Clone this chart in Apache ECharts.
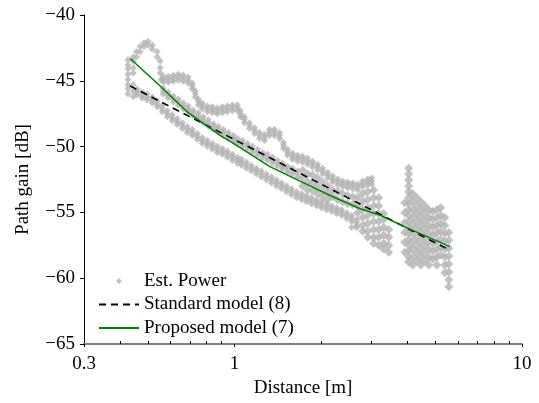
<!DOCTYPE html>
<html><head><meta charset="utf-8">
<script src="https://cdn.jsdelivr.net/npm/echarts@6/dist/echarts.min.js"></script>
<style>html,body{margin:0;padding:0;background:#fff}#c{width:539px;height:403px}</style>
</head><body><div id="c"></div><script>
// ---- data (distance [m], path gain [dB]) ----
const estStart = [[0.427,-43.4],[0.427,-43.8],[0.427,-44.1],[0.427,-44.5],[0.427,-44.9],[0.427,-45.3],[0.427,-45.6],[0.427,-46.0],
[0.445,-43.2],[0.445,-43.5],[0.445,-44.0],[0.445,-44.4],[0.445,-45.3],[0.445,-45.8],[0.445,-46.2],
[0.457,-42.8],[0.457,-43.2],[0.470,-42.4],[0.470,-42.8],[0.485,-42.1],[0.485,-42.4],[0.501,-42.0],[0.501,-42.3],
[0.518,-42.3],[0.518,-42.6],[0.539,-42.8],[0.539,-43.2],[0.552,-43.5],[0.552,-44.0],[0.552,-44.4],[0.556,-44.9]];
const estUpper = [[0.566,-44.65],[0.566,-45.11],[0.589,-44.65],[0.589,-45.11],[0.613,-44.58],[0.613,-45.03],
[0.638,-44.50],[0.638,-44.95],[0.664,-44.58],[0.664,-45.03],[0.691,-44.73],[0.691,-45.18],[0.714,-45.18],[0.714,-45.63],
[0.731,-45.78],[0.731,-46.23],[0.749,-46.38],[0.749,-46.83],[0.773,-46.68],[0.773,-47.13],[0.805,-46.91],[0.805,-47.36],
[0.838,-46.98],[0.838,-47.43],[0.872,-47.06],[0.872,-47.51],[0.908,-46.98],[0.908,-47.43],[0.945,-46.91],[0.945,-47.36],
[0.984,-46.83],[0.984,-47.28],[1.024,-46.83],[1.024,-47.28],[1.049,-47.28],[1.049,-47.73],[1.083,-47.73],[1.083,-48.18],
[1.128,-48.18],[1.128,-48.63],[1.174,-48.56],[1.174,-49.01],[1.222,-48.93],[1.222,-49.38],[1.272,-49.08],[1.272,-49.53],
[1.324,-48.71],[1.324,-49.16],[1.378,-48.71],[1.378,-49.16],[1.435,-48.93],[1.435,-49.38],[1.482,-49.68],[1.482,-50.14],
[1.530,-50.21],[1.530,-50.66],[1.592,-50.51],[1.592,-50.96],[1.658,-50.66],[1.658,-51.11],[1.726,-50.74],[1.726,-51.19],
[1.797,-50.89],[1.797,-51.34],[1.870,-51.11],[1.870,-51.56],[1.947,-51.34],[1.947,-51.79],[2.026,-51.64],[2.026,-52.09],
[2.109,-51.94],[2.109,-52.39],[2.195,-52.24],[2.195,-52.69],[2.285,-52.46],[2.285,-52.91],[2.379,-52.61],[2.379,-53.06],
[2.476,-52.69],[2.476,-53.14],[2.577,-52.76],[2.577,-53.21],[2.684,-52.84],[2.684,-53.29],[2.793,-52.61],[2.793,-53.06],
[2.907,-52.46],[2.907,-52.91],[3.001,-52.39],[3.001,-52.84]];
const estUpperCore = [[0.566,-44.88],[0.589,-44.88],[0.613,-44.8],[0.638,-44.72],[0.664,-44.8],[0.691,-44.95],[0.714,-45.4],
[0.731,-46.0],[0.749,-46.6],[0.773,-46.9],[0.805,-47.13],[0.838,-47.2],[0.872,-47.28],[0.908,-47.2],[0.945,-47.13],
[0.984,-47.05],[1.024,-47.05],[1.049,-47.5],[1.083,-47.95],[1.128,-48.4],[1.174,-48.78],[1.222,-49.15],[1.272,-49.3],
[1.324,-48.93],[1.378,-48.93],[1.435,-49.15],[1.482,-49.9],[1.530,-50.43],[1.592,-50.73],[1.658,-50.88],[1.726,-50.96],
[1.797,-51.11],[1.870,-51.33],[1.947,-51.56],[2.026,-51.86],[2.109,-52.16],[2.195,-52.46],[2.285,-52.68],[2.379,-52.83],
[2.476,-52.91],[2.577,-52.98],[2.684,-53.06],[2.793,-52.83],[2.907,-52.68],[3.001,-52.61]];
const estMiddle = [[0.566,-45.56],[0.566,-46.01],[0.589,-45.86],[0.589,-46.31],[0.613,-46.16],[0.613,-46.61],
[0.638,-46.38],[0.638,-46.83],[0.664,-46.68],[0.664,-47.13],[0.691,-46.91],[0.691,-47.36],[0.719,-47.21],[0.719,-47.66],
[0.749,-47.43],[0.749,-47.88],[0.779,-47.73],[0.779,-48.18],[0.811,-47.96],[0.811,-48.41],[0.845,-48.26],[0.845,-48.71],
[0.879,-48.48],[0.879,-48.93],[0.915,-48.71],[0.915,-49.16],[0.953,-48.93],[0.953,-49.38],[0.992,-49.16],[0.992,-49.61],
[1.024,-49.38],[1.024,-49.83],[1.066,-49.53],[1.066,-49.98],[1.110,-49.76],[1.110,-50.21],[1.155,-49.98],[1.155,-50.44],
[1.203,-50.21],[1.203,-50.66],[1.252,-50.44],[1.252,-50.89],[1.303,-50.59],[1.303,-51.04],[1.356,-50.81],[1.356,-51.26],
[1.412,-51.04],[1.412,-51.49],[1.470,-51.26],[1.470,-51.71],[1.530,-51.49],[1.530,-51.94],[1.592,-51.64],[1.592,-52.09],
[1.658,-51.86],[1.658,-52.31]];
const estMiddleCore = [[0.566,-45.79],[0.589,-46.09],[0.613,-46.39],[0.638,-46.61],[0.664,-46.91],[0.691,-47.13],[0.719,-47.43],
[0.749,-47.66],[0.779,-47.96],[0.811,-48.18],[0.845,-48.48],[0.879,-48.71],[0.915,-48.93],[0.953,-49.16],[0.992,-49.38],
[1.024,-49.61],[1.066,-49.76],[1.110,-49.98],[1.155,-50.21],[1.203,-50.44],[1.252,-50.66],[1.303,-50.81],[1.356,-51.04],
[1.412,-51.26],[1.470,-51.49],[1.530,-51.71],[1.592,-51.86],[1.658,-52.09]];
const estLower = [[0.459,-45.63],[0.459,-46.08],[0.478,-45.86],[0.478,-46.31],[0.497,-46.01],[0.497,-46.46],
[0.518,-46.23],[0.518,-46.68],[0.539,-46.53],[0.539,-46.98],[0.561,-46.91],[0.561,-47.36],[0.584,-47.28],[0.584,-47.73],
[0.608,-47.58],[0.608,-48.03],[0.633,-47.88],[0.633,-48.33],[0.659,-48.18],[0.659,-48.63],[0.686,-48.48],[0.686,-48.93],
[0.714,-48.71],[0.714,-49.16],[0.743,-49.01],[0.743,-49.46],[0.773,-49.31],[0.773,-49.76],[0.805,-49.53],[0.805,-49.98],
[0.838,-49.76],[0.838,-50.21],[0.872,-49.98],[0.872,-50.44],[0.908,-50.14],[0.908,-50.59],[0.945,-50.36],[0.945,-50.81],
[0.984,-50.59],[0.984,-51.04],[1.024,-50.81],[1.024,-51.26],[1.058,-50.96],[1.058,-51.41],[1.101,-51.19],[1.101,-51.64],
[1.146,-51.41],[1.146,-51.86],[1.193,-51.64],[1.193,-52.09],[1.242,-51.86],[1.242,-52.31],[1.293,-52.09],[1.293,-52.54],
[1.346,-52.31],[1.346,-52.76],[1.401,-52.54],[1.401,-52.99],[1.458,-52.76],[1.458,-53.21],[1.518,-52.99],[1.518,-53.44],
[1.580,-53.21],[1.580,-53.66],[1.644,-53.44],[1.644,-53.89],[1.712,-53.59],[1.712,-54.04],[1.782,-53.74],[1.782,-54.19],
[1.855,-53.89],[1.855,-54.34],[1.931,-54.04],[1.931,-54.49],[2.010,-54.19],[2.010,-54.64],[2.093,-54.34],[2.093,-54.79],
[2.178,-54.49],[2.178,-54.94],[2.267,-54.64],[2.267,-55.09],[2.360,-54.79],[2.360,-55.24],[2.457,-55.02],[2.457,-55.47],
[2.557,-55.24],[2.557,-55.69],[2.557,-56.14],[2.662,-55.54],[2.662,-55.99],[2.662,-56.14]];
const estLowerCore = [[0.459,-45.86],[0.478,-46.09],[0.497,-46.24],[0.518,-46.46],[0.539,-46.76],[0.561,-47.13],[0.584,-47.51],
[0.608,-47.81],[0.633,-48.11],[0.659,-48.41],[0.686,-48.71],[0.714,-48.93],[0.743,-49.24],[0.773,-49.54],[0.805,-49.76],
[0.838,-49.98],[0.872,-50.21],[0.908,-50.37],[0.945,-50.59],[0.984,-50.81],[1.024,-51.04],[1.058,-51.19],[1.101,-51.41],
[1.146,-51.64],[1.193,-51.86],[1.242,-52.09],[1.293,-52.31],[1.346,-52.54],[1.401,-52.76],[1.458,-52.99],[1.518,-53.21],
[1.580,-53.44],[1.644,-53.66],[1.712,-53.81],[1.782,-53.96],[1.855,-54.11],[1.931,-54.26],[2.010,-54.41],[2.093,-54.56],
[2.178,-54.71],[2.267,-54.86],[2.360,-55.01],[2.457,-55.24],[2.557,-55.47],[2.662,-55.77]];
const estFill = [[1.726,-51.79],[1.726,-52.39],[1.726,-52.99],[1.797,-52.09],[1.797,-52.69],[1.797,-53.29],
[1.870,-52.16],[1.870,-52.76],[1.870,-53.36],[1.947,-52.39],[1.947,-52.99],[1.947,-53.59],
[2.026,-52.69],[2.026,-53.29],[2.026,-53.81],[2.109,-52.99],[2.109,-53.51],[2.109,-54.04],
[2.195,-53.29],[2.195,-53.81],[2.285,-53.44],[2.285,-54.04],[2.379,-53.59],[2.379,-54.19],
[2.476,-53.74],[2.476,-54.34],[2.577,-53.81],[2.577,-54.41],[2.684,-53.89],[2.684,-54.49],[2.684,-55.02],
[2.793,-53.59],[2.793,-54.19],[2.793,-54.79],[2.793,-55.39],[2.793,-55.99],[2.793,-56.44],
[2.907,-53.44],[2.907,-54.04],[2.907,-54.64],[2.907,-55.24],[2.907,-55.84],[2.907,-56.44],[2.907,-56.89],
[3.048,-53.29],[3.048,-53.89],[3.048,-54.49],[3.048,-55.09],[3.048,-55.69],[3.048,-56.29],[3.048,-56.89],[3.048,-57.34],
[3.175,-53.89],[3.175,-54.49],[3.175,-55.09],[3.175,-55.69],[3.175,-56.29],[3.175,-56.89],[3.175,-57.49],
[3.304,-55.09],[3.304,-55.54],[3.304,-56.14],[3.304,-56.74],[3.304,-57.34],[3.304,-57.79],
[3.442,-56.29],[3.442,-56.89],[3.442,-57.49],[3.442,-58.02]];
const estCluster = [[3.909,-54.26],[3.909,-55.02],[3.909,-55.77],[3.909,-56.52],[3.909,-57.27],[3.909,-58.02],
[4.036,-51.64],[4.036,-52.09],[4.036,-52.54],[4.036,-52.99],[4.036,-53.44],[4.036,-53.89],[4.036,-54.34],[4.036,-54.79],
[4.036,-55.24],[4.036,-55.69],[4.036,-56.14],[4.036,-56.59],[4.036,-57.04],[4.036,-57.49],[4.036,-57.94],[4.036,-58.39],[4.036,-58.77],
[4.170,-53.59],[4.170,-54.19],[4.170,-54.79],[4.170,-55.39],[4.170,-55.99],[4.170,-56.59],[4.170,-57.19],[4.170,-57.79],[4.170,-58.39],[4.170,-58.99],
[4.305,-53.89],[4.305,-54.49],[4.305,-55.09],[4.305,-55.69],[4.305,-56.29],[4.305,-56.89],[4.305,-57.49],[4.305,-58.09],[4.305,-58.69],
[4.445,-54.19],[4.445,-54.79],[4.445,-55.39],[4.445,-55.99],[4.445,-56.59],[4.445,-57.19],[4.445,-57.79],[4.445,-58.39],[4.445,-58.99],
[4.590,-54.49],[4.590,-55.09],[4.590,-55.69],[4.590,-56.29],[4.590,-56.89],[4.590,-57.49],[4.590,-58.09],[4.590,-58.69],
[4.740,-54.79],[4.740,-55.39],[4.740,-55.99],[4.740,-56.59],[4.740,-57.19],[4.740,-57.79],[4.740,-58.39],[4.740,-58.99],
[4.895,-54.94],[4.895,-55.54],[4.895,-56.14],[4.895,-56.74],[4.895,-57.34],[4.895,-57.94],[4.895,-58.54],
[5.055,-54.79],[5.055,-55.39],[5.055,-55.99],[5.055,-56.59],[5.055,-57.19],[5.055,-57.79],[5.055,-58.39],[5.055,-58.99],
[5.218,-54.64],[5.218,-55.24],[5.218,-55.84],[5.218,-56.44],[5.218,-57.04],[5.218,-57.64],[5.218,-58.24],
[5.390,-55.39],[5.390,-55.99],[5.390,-56.59],[5.390,-57.19],[5.390,-57.79],[5.390,-58.39],[5.390,-58.99],[5.390,-59.59],
[5.566,-56.52],[5.566,-57.12],[5.566,-57.72],[5.566,-58.32],[5.566,-58.92],[5.566,-59.52],[5.566,-60.12],[5.566,-60.65]];

const stdDistance = [0.434, 5.614];
const stdGain = [-45.4, -57.87];
const propDistance = [0.434, 0.552, 0.68, 0.90, 0.968, 1.324, 1.684, 2.143, 2.727, 3.201, 3.912, 5.614];
const propGain = [-43.3, -45.4, -47.3, -49.2, -49.6, -51.5, -52.6, -53.7, -54.7, -55.2, -56.1, -57.6];

const xMajorTicks = [0.3, 1, 10];
const xMinorTicks = [0.4, 0.5, 0.6, 0.7, 0.8, 0.9, 2, 3, 4, 5, 6, 7, 8, 9];
const yMin = -65, yMax = -40, yStep = 5;

// ---- chart ----
const FONT = '"Liberation Serif", "Times New Roman", serif';
const minusFmt = v => (v < 0 ? '\u2212' + Math.abs(v) : String(v));
const zip = (a, b) => a.map((v, i) => [v, b[i]]);
const hidden = {color: 'rgba(0,0,0,0)', borderWidth: 0, opacity: 0};
const GRAY = '#b3b3b3';
const chart = echarts.init(document.getElementById('c'), null, {renderer: 'canvas'});
chart.setOption({
  animation: false,
  backgroundColor: '#fff',
  grid: {left: 84, right: 17, top: 15, bottom: 55},
  legend: {
    orient: 'vertical', left: 98, top: 271, padding: 0,
    itemWidth: 40, itemHeight: 6, itemGap: 3.5,
    textStyle: {fontFamily: FONT, fontSize: 19, color: '#000', lineHeight: 20},
    data: [
      {name: 'Est. Power', icon: 'path://M0,0M40,6M20,0L23,3L20,6L17,3Z'},
      {name: 'Standard model (8)', itemStyle: hidden},
      {name: 'Proposed model (7)', itemStyle: hidden}
    ]
  },
  xAxis: [{
    type: 'log', logBase: 10, min: 0.3, max: 10, position: 'bottom',
    axisLine: {show: true, lineStyle: {color: '#7f7f7f', width: 2}},
    axisTick: {show: true, customValues: xMajorTicks, length: 3, lineStyle: {color: '#000'}},
    axisLabel: {customValues: xMajorTicks, fontFamily: FONT, fontSize: 19, color: '#000', margin: 11},
    splitLine: {show: false},
    name: 'Distance [m]', nameLocation: 'middle', nameGap: 35,
    nameTextStyle: {fontFamily: FONT, fontSize: 19, color: '#000'}
  }, {
    type: 'log', logBase: 10, min: 0.3, max: 10, position: 'bottom',
    axisLine: {show: false},
    axisTick: {show: true, inside: true, customValues: xMinorTicks, length: 3, lineStyle: {color: '#000'}},
    axisLabel: {show: false}, splitLine: {show: false}
  }],
  yAxis: {
    type: 'value', min: yMin, max: yMax, interval: yStep,
    axisLine: {show: true, lineStyle: {color: '#000', width: 1}},
    axisTick: {show: true, length: 4, lineStyle: {color: '#000'}},
    axisLabel: {formatter: minusFmt, fontFamily: FONT, fontSize: 19, color: '#000', margin: 9},
    splitLine: {show: false},
    name: 'Path gain [dB]', nameLocation: 'middle', nameGap: 51,
    nameTextStyle: {fontFamily: FONT, fontSize: 19, color: '#000'}
  },
  series: [{
    name: 'Est. Power', type: 'scatter', xAxisIndex: 0,
    data: [].concat(estStart, estUpper, estUpperCore, estMiddle, estMiddleCore, estLower, estLowerCore),
    symbol: 'diamond', symbolSize: 7,
    itemStyle: {color: GRAY}, z: 1
  }, {
    name: 'Est. Power', type: 'scatter', xAxisIndex: 0,
    data: [].concat(estFill, estCluster),
    symbol: 'diamond', symbolSize: 9,
    itemStyle: {color: GRAY}, z: 1
  }, {
    name: 'Standard model (8)', type: 'line', xAxisIndex: 0,
    data: zip(stdDistance, stdGain), symbol: 'none', showSymbol: false,
    itemStyle: {color: '#000'},
    lineStyle: {color: '#000', width: 1.6, type: [7, 5]}, z: 3
  }, {
    name: 'Proposed model (7)', type: 'line', xAxisIndex: 0,
    data: zip(propDistance, propGain), symbol: 'none', showSymbol: false,
    itemStyle: {color: '#008000'},
    lineStyle: {color: '#008000', width: 1.5}, z: 4
  }]
});
</script></body></html>
